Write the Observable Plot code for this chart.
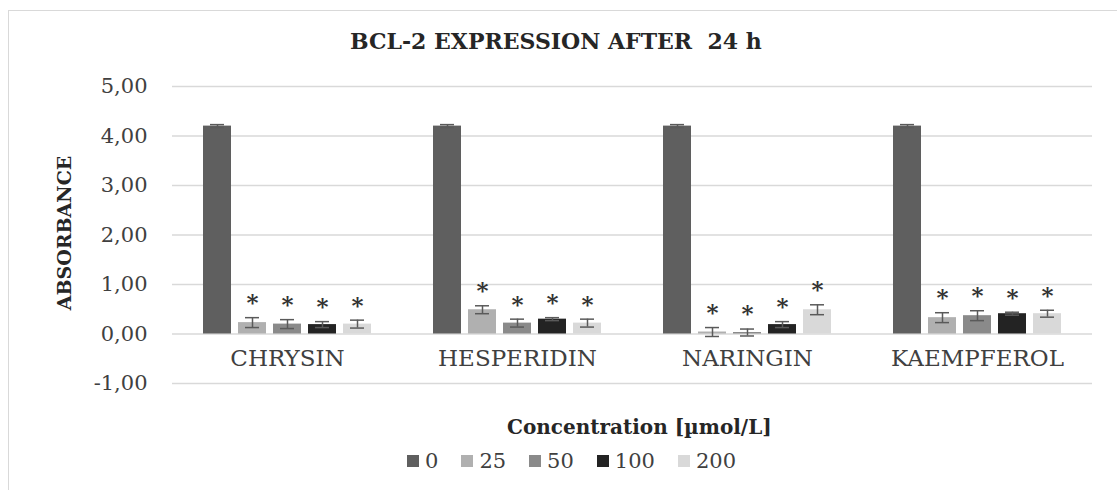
<!DOCTYPE html>
<html>
<head>
<meta charset="utf-8">
<script src="https://cdn.jsdelivr.net/npm/d3@7"></script>
<script src="https://cdn.jsdelivr.net/npm/@observablehq/plot@0.6"></script>
<style>
  html, body { margin: 0; padding: 0; background: #fff; overflow: hidden; }
  #wrap { position: relative; width: 1117px; height: 490px; overflow: hidden; font-family: "DejaVu Serif", serif; }
  #border { position: absolute; left: 8px; top: 10px; width: 1300px; height: 700px; border: 1px solid #d9d9d9; }
  #chart { position: absolute; left: 0; top: 0; }
  #title { position: absolute; left: 0; width: 1117px; top: 28px; text-align: left; padding-left: 350px; box-sizing: border-box; font-weight: bold; font-size: 22px; color: #262626; white-space: pre; }
  #ylabel { position: absolute; left: 64px; top: 233px; transform: translate(-50%, -50%) rotate(-90deg); font-weight: bold; font-size: 19px; color: #262626; white-space: nowrap; }
  #legtitle { position: absolute; left: 507px; top: 415px; font-weight: bold; font-size: 20px; color: #262626; white-space: nowrap; }
  #legend { position: absolute; left: 407px; top: 449px; display: flex; align-items: center; gap: 23px; font-size: 21px; color: #404040; }
  .item { display: flex; align-items: center; gap: 6px; }
  .sw { width: 12px; height: 12px; display: inline-block; }
</style>
</head>
<body>
<div id="wrap">
  <div id="border"></div>
  <div id="chart"></div>
  <div id="title"></div>
  <div id="ylabel"></div>
  <div id="legtitle"></div>
  <div id="legend"></div>
</div>
<script>
// ---- data ----
const titleText = "BCL-2 EXPRESSION AFTER  24 h";
const yLabel = "ABSORBANCE";
const legendTitle = "Concentration [µmol/L]";
const categories = ["CHRYSIN", "HESPERIDIN", "NARINGIN", "KAEMPFEROL"];
const concentrations = ["0", "25", "50", "100", "200"];
const colors = ["#5f5f5f", "#b0b0b0", "#8a8a8a", "#232323", "#d9d9d9"];
const yTicks = [-1, 0, 1, 2, 3, 4, 5];

const chrysin     = [4.20, 0.23, 0.20, 0.19, 0.20];
const chrysinErr  = [0.03, 0.10, 0.09, 0.06, 0.08];
const hesperidin     = [4.20, 0.49, 0.22, 0.30, 0.22];
const hesperidinErr  = [0.03, 0.08, 0.08, 0.03, 0.08];
const naringin     = [4.20, 0.04, 0.03, 0.19, 0.49];
const naringinErr  = [0.03, 0.09, 0.07, 0.06, 0.10];
const kaempferol     = [4.20, 0.33, 0.37, 0.41, 0.41];
const kaempferolErr  = [0.03, 0.10, 0.10, 0.03, 0.07];
const significant = [false, true, true, true, true];

// ---- build table ----
const series = [[chrysin, chrysinErr], [hesperidin, hesperidinErr], [naringin, naringinErr], [kaempferol, kaempferolErr]];
const rows = [];
categories.forEach((cat, i) => {
  concentrations.forEach((c, j) => {
    rows.push({cat, conc: c, value: series[i][0][j], err: series[i][1][j], sig: significant[j]});
  });
});

const fmt = d => d.toFixed(2).replace(".", ",");

const chart = Plot.plot({
  width: 1117,
  height: 400,
  marginLeft: 172,
  marginRight: 25,
  marginTop: 86,
  marginBottom: 17,
  style: {fontFamily: "DejaVu Serif", fontSize: "21px", color: "#404040", background: "transparent"},
  fx: {domain: categories, padding: 0, axis: null},
  x: {domain: concentrations, paddingInner: 0.2, paddingOuter: 0.85, axis: null},
  y: {domain: [-1, 5], ticks: yTicks, tickSize: 0, tickPadding: 25, tickFormat: fmt, label: null},
  color: {domain: concentrations, range: colors},
  marks: [
    Plot.ruleY(yTicks, {stroke: "#d9d9d9", strokeWidth: 1.5}),
    Plot.barY(rows, {fx: "cat", x: "conc", y: "value", fill: "conc"}),
    Plot.ruleX(rows, {fx: "cat", x: "conc", y1: d => d.value - d.err, y2: d => d.value + d.err, stroke: "#5a5a5a", strokeWidth: 1.5}),
    Plot.tickY(rows, {fx: "cat", x: "conc", y: d => d.value + d.err, stroke: "#5a5a5a", strokeWidth: 1.5, insetLeft: 7, insetRight: 7}),
    Plot.tickY(rows, {fx: "cat", x: "conc", y: d => d.value - d.err, stroke: "#5a5a5a", strokeWidth: 1.5, insetLeft: 7, insetRight: 7}),
    Plot.text(rows.filter(d => d.sig), {fx: "cat", x: "conc", y: d => d.value + d.err, text: d => "*", dy: -15, fontSize: 23, fontWeight: "bold", fill: "#333"}),
    Plot.text(categories, {fx: d => d, y: d => 0, text: d => d, dy: 25, fontSize: 23, fill: "#404040", style: {letterSpacing: "0.5px"}})
  ]
});
document.getElementById("chart").appendChild(chart);

document.getElementById("title").textContent = titleText;
document.getElementById("ylabel").textContent = yLabel;
document.getElementById("legtitle").textContent = legendTitle;
const leg = document.getElementById("legend");
concentrations.forEach((c, i) => {
  const it = document.createElement("div");
  it.className = "item";
  const sw = document.createElement("span");
  sw.className = "sw";
  sw.style.background = colors[i];
  const lb = document.createElement("span");
  lb.textContent = c;
  it.appendChild(sw); it.appendChild(lb);
  leg.appendChild(it);
});
</script>
</body>
</html>
